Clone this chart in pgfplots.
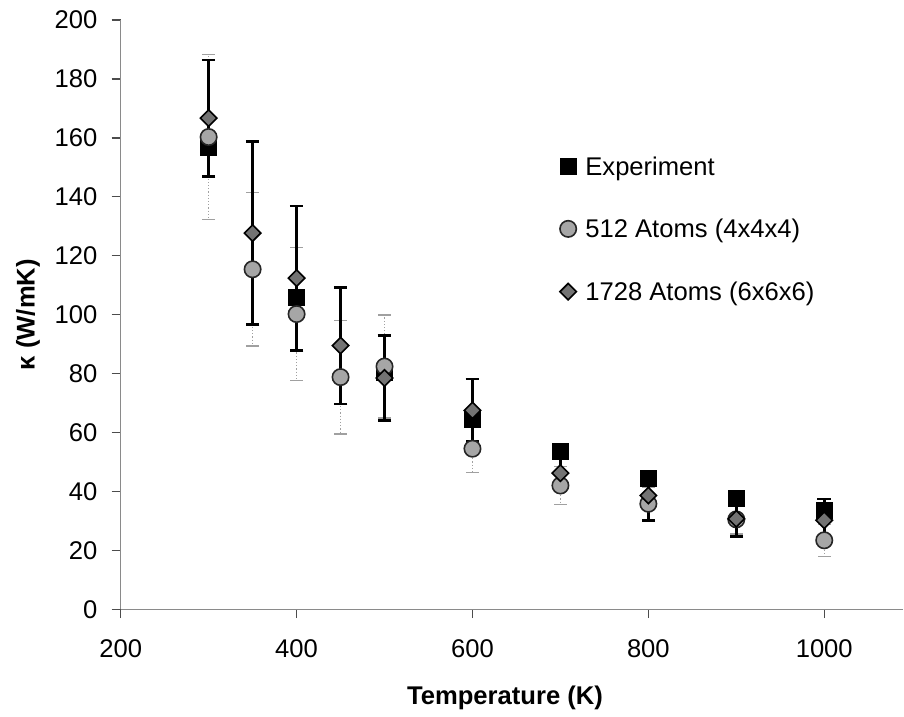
\documentclass[border=0pt]{standalone}
\usepackage{fontspec}
\setmainfont{Liberation Sans}
\usepackage{pgfplots}
\pgfplotsset{compat=1.18}
\definecolor{circfill}{HTML}{A6A6A6}
\definecolor{diafill}{HTML}{737373}
\definecolor{ebgray}{HTML}{A0A0A0}
\definecolor{axgray}{HTML}{8A8A8A}
\begin{document}
\begin{tikzpicture}
\begin{axis}[
  name=ax,
  scale only axis, width=391.4pt, height=294.6pt,
  xmin=200, xmax=1090, ymin=0, ymax=200,
  axis x line=bottom, axis y line=left,
  axis line style={-, axgray, line width=0.6pt},
  xtick={200,400,...,1000}, ytick={0,20,...,200},
  minor tick num=0,
  tick align=outside, tick style={black!70, line width=0.6pt},
  major tick length=4.5pt,
  /pgf/number format/assume math mode=true,
  /pgf/number format/1000 sep={},
  ticklabel style={font=\fontsize{12.8}{14}\selectfont, inner sep=0pt},
  yticklabel style={anchor=east, xshift=-7pt},
  xticklabel style={anchor=north, yshift=-10.5pt},
  xlabel={Temperature (K)}, ylabel={κ (W/mK)},
  label style={font=\fontsize{12.8}{14}\selectfont\bfseries},
  xlabel style={at={(axis description cs:0.491,-0.1497)}, anchor=center},
  ylabel style={at={(axis description cs:-0.1184,0.5)}, anchor=center},
  clip=false,
  legend cell align=left,
  legend image code/.code={\draw[#1] plot coordinates {(0pt,0pt)};},
  legend style={draw=none, fill=none, inner sep=0pt, outer sep=0pt,
    at={(axis cs:699.5,153.5)}, anchor=north west,
    font=\fontsize{12.8}{14}\selectfont,
    row sep=22.4pt, column sep=4.5pt,
    nodes={inner sep=0pt, outer sep=0pt, text height=9pt, text depth=0pt}},
]
% error bars (drawn beneath markers)
\addplot[forget plot, only marks, mark=none,
  error bars/.cd, y dir=both, y explicit,
  error bar style={draw=ebgray, line width=0.6pt, densely dotted},
  error mark options={draw=ebgray, rotate=90, mark size=3.2pt, line width=0.7pt, solid}]
  coordinates {
  (300,160.3) +- (0,28)
  (350,115.4) +- (0,26)
  (400,100.2) +- (0,22.5)
  (450,78.8) +- (0,19.3)
  (500,82.4) +- (0,17.5)
  (600,54.5) +- (0,8)
  (700,42.0) +- (0,6.4)
  (800,35.8) +- (0,5.5)
  (900,30.5) +- (0,5)
  (1000,23.4) +- (0,5.4)
  };
\addplot[forget plot, only marks, mark=none,
  error bars/.cd, y dir=both, y explicit,
  error bar style={draw=black, line width=1.25pt},
  error mark options={draw=black, rotate=90, mark size=3.4pt, line width=1.25pt}]
  coordinates {
  (300,166.7) +- (0,19.8)
  (350,127.7) +- (0,31)
  (400,112.4) +- (0,24.5)
  (450,89.5) +- (0,19.8)
  (500,78.5) +- (0,14.4)
  (600,67.5) +- (0,10.6)
  (700,46.2) +- (0,5)
  (800,38.6) +- (0,8.4)
  (900,30.7) +- (0,6)
  (1000,30.2) +- (0,7.2)
  };
% markers
\addplot[only marks, mark=square*, mark size=4pt,
  mark options={fill=black, draw=black, line width=0.5pt}]
  coordinates {
  (300,156.7) (400,105.7) (500,80.5) (600,64.3)
  (700,53.5) (800,44.5) (900,37.5) (1000,33.6)
  };
\addlegendentry{Experiment}
\addplot[only marks, mark=*, mark size=4.1pt,
  mark options={fill=circfill, draw=black!85, line width=0.8pt}]
  coordinates {
  (300,160.3) (350,115.4) (400,100.2) (450,78.8) (500,82.4)
  (600,54.5) (700,42.0) (800,35.8) (900,30.5) (1000,23.4)
  };
\addlegendentry{512 Atoms (4x4x4)}
\addplot[only marks, mark=square*, mark size=2.9pt,
  mark options={rotate=45, fill=diafill, draw=black, line width=0.8pt}]
  coordinates {
  (300,166.7) (350,127.7) (400,112.4) (450,89.5) (500,78.5)
  (600,67.5) (700,46.2) (800,38.6) (900,30.7) (1000,30.2)
  };
\addlegendentry{1728 Atoms (6x6x6)}
\coordinate (O) at (axis cs:200,0);
\end{axis}
\path (O) ++(-60.35pt,-51.85pt) rectangle ++(452pt,356.5pt);
\end{tikzpicture}
\end{document}
